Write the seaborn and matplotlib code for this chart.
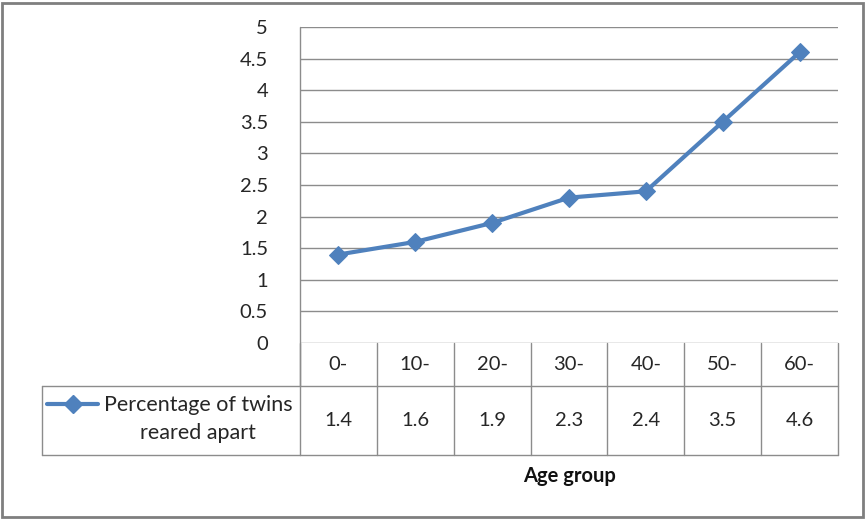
import matplotlib
matplotlib.use("Agg")
import matplotlib.pyplot as plt
import matplotlib.transforms as mtransforms
import seaborn as sns
import pandas as pd

age_groups = ["0-", "10-", "20-", "30-", "40-", "50-", "60-"]
percent_apart = [1.4, 1.6, 1.9, 2.3, 2.4, 3.5, 4.6]
series_name = "Percentage of twins\nreared apart"
y_ticks = [0, 0.5, 1, 1.5, 2, 2.5, 3, 3.5, 4, 4.5, 5]
y_tick_labels = ["0", "0.5", "1", "1.5", "2", "2.5", "3", "3.5", "4", "4.5", "5"]

LINE = "#4F81BD"
GRID = "#8C8C8C"
TXT = "#262626"
FS = 14.5
W, H = 866, 519


def main():
    sns.set_style("white")
    plt.rcParams["font.family"] = ["Lato", "DejaVu Sans"]

    df = pd.DataFrame({"pos": range(len(age_groups)), "val": percent_apart})

    fig = plt.figure(figsize=(W / 100, H / 100), dpi=100)
    # plot area in pixels: x 300..838, y 27..343
    ax = fig.add_axes([300 / W, (H - 343) / H, (838 - 300) / W, (343 - 27) / H])

    sns.lineplot(data=df, x="pos", y="val", ax=ax, color=LINE, linewidth=3,
                 marker="D", markersize=9, markeredgecolor=LINE, zorder=5)

    ax.set_xlim(-0.5, len(age_groups) - 0.5)
    ax.set_ylim(0, 5)
    ax.set_yticks(y_ticks)
    ax.set_yticklabels(y_tick_labels, fontsize=FS, color=TXT)
    ax.set_xticks([])
    ax.set_xlabel("")
    ax.set_ylabel("")
    ax.tick_params(axis="y", length=0, pad=23)
    for y in y_ticks[1:]:
        ax.axhline(y, color=GRID, linewidth=1, zorder=1)
    for s in ax.spines.values():
        s.set_visible(False)
    ax.axhline(0, color=GRID, linewidth=1, zorder=1)

    # data table below the axis: x in data coords, y in axes fraction
    trans = mtransforms.blended_transform_factory(ax.transData, ax.transAxes)
    ph = 343 - 27
    y_axis = 0.0
    y_head = -(386 - 343) / ph
    y_row = -(455 - 343) / ph
    x0, x1 = -0.5, len(age_groups) - 0.5
    kw = dict(color=GRID, linewidth=1, transform=trans, clip_on=False)

    # left axis line extends through header row
    ax.plot([x0, x0], [1, y_head], **kw)
    for i in range(len(age_groups) + 1):
        ax.plot([x0 + i, x0 + i], [y_axis, y_row], **kw)
    ax.plot([x0, x1], [y_head, y_head], **kw)
    ax.plot([x0, x1], [y_row, y_row], **kw)

    # legend cell, extends left into figure margin
    lx = 42 / W
    top_y = (H - 386) / H
    bot_y = (H - 455) / H
    fig.add_artist(plt.Line2D([lx, lx], [top_y, bot_y], color=GRID, linewidth=1))
    fig.add_artist(plt.Line2D([lx, 300 / W], [top_y, top_y], color=GRID, linewidth=1))
    fig.add_artist(plt.Line2D([lx, 300 / W], [bot_y, bot_y], color=GRID, linewidth=1))

    # legend key
    ky = (H - 404) / H
    fig.add_artist(plt.Line2D([47 / W, 98 / W], [ky, ky], color=LINE, linewidth=3))
    fig.add_artist(plt.Line2D([72.5 / W], [ky], color=LINE, marker="D",
                              markersize=9, linestyle="none"))
    fig.text(198 / W, (H - 419) / H, series_name, ha="center", va="center",
             fontsize=15.5, color=TXT, linespacing=1.45)

    for i, (lab, v) in enumerate(zip(age_groups, percent_apart)):
        ax.text(i, (y_axis + y_head) / 2, lab, transform=trans, ha="center",
                va="center", fontsize=FS, color=TXT)
        ax.text(i, (y_head + y_row) / 2, f"{v:g}", transform=trans, ha="center",
                va="center", fontsize=FS, color=TXT)

    fig.text(570 / W, (H - 476) / H, "Age group", ha="center", va="center",
             fontsize=FS, fontweight="bold", color="#111111")

    # outer chart border
    fig.add_artist(plt.Rectangle((2 / W, 2 / H), (W - 5) / W, (H - 5) / H,
                                 fill=False, edgecolor="#7F7F7F", linewidth=2,
                                 transform=fig.transFigure))

    fig.savefig("out.png", dpi=100)


if __name__ == "__main__":
    main()
